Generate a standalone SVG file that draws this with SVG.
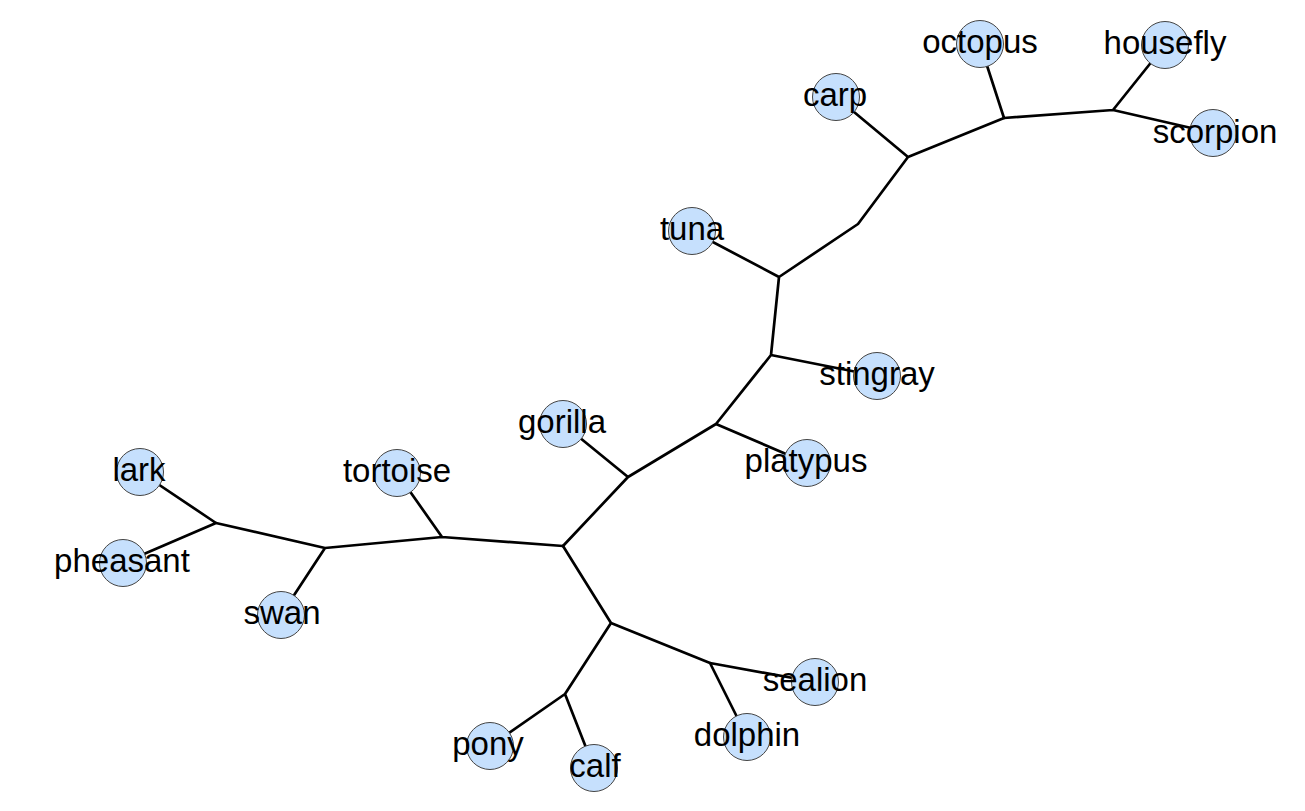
<svg xmlns="http://www.w3.org/2000/svg" width="1305" height="811" viewBox="0 0 1305 811">
<style>
.e{stroke:#000;stroke-width:2.7;fill:none;stroke-linecap:round;stroke-linejoin:round}
.n circle{fill:#c6e0fd;stroke:#444;stroke-width:1}
.n text{font-family:"Liberation Sans",Arial,sans-serif;font-size:33px;fill:#000;text-anchor:middle}
</style>
<rect width="1305" height="811" fill="#fff"/>
<g id="connectors">
<path class="e" d="M980,44 L1004,118 L1113,110 L1165,45 M1113,110 L1213,133"/>
<path class="e" d="M1004,118 L908,157 L836,97 M908,157 L858,224 L779,277 L692,231 M779,277 L771,355 L877,376 M771,355 L716,424 L807,463 M716,424 L628,477 L563,424 M628,477 L563,546"/>
<path class="e" d="M563,546 L442,537 L397,473 M442,537 L325,548 L281,615 M325,548 L216,523 L140,472 M216,523 L123,563"/>
<path class="e" d="M563,546 L611,623 L565,694 L490,746 M565,694 L594,768 M611,623 L710,663 L815,682 M710,663 L747,737"/>
</g>
<g id="octopus" class="n"><circle cx="980" cy="44" r="23.5"/><text x="980" y="53">octopus</text></g>
<g id="housefly" class="n"><circle cx="1165" cy="45" r="23.5"/><text x="1165" y="54">housefly</text></g>
<g id="scorpion" class="n"><circle cx="1213" cy="133" r="23.5"/><text x="1215" y="142.5">scorpion</text></g>
<g id="carp" class="n"><circle cx="836" cy="97" r="23.5"/><text x="835" y="106">carp</text></g>
<g id="tuna" class="n"><circle cx="692" cy="231" r="23.5"/><text x="692" y="240">tuna</text></g>
<g id="stingray" class="n"><circle cx="877" cy="376" r="23.5"/><text x="877" y="385">stingray</text></g>
<g id="platypus" class="n"><circle cx="807" cy="463" r="23.5"/><text x="806" y="472">platypus</text></g>
<g id="gorilla" class="n"><circle cx="563" cy="424" r="23.5"/><text x="562" y="433">gorilla</text></g>
<g id="tortoise" class="n"><circle cx="397" cy="473" r="23.5"/><text x="397" y="482">tortoise</text></g>
<g id="lark" class="n"><circle cx="140" cy="472" r="23.5"/><text x="139" y="481">lark</text></g>
<g id="pheasant" class="n"><circle cx="123" cy="563" r="23.5"/><text x="122" y="572">pheasant</text></g>
<g id="swan" class="n"><circle cx="281" cy="615" r="23.5"/><text x="282" y="624">swan</text></g>
<g id="pony" class="n"><circle cx="490" cy="746" r="23.5"/><text x="488" y="755">pony</text></g>
<g id="calf" class="n"><circle cx="594" cy="768" r="23.5"/><text x="595" y="777">calf</text></g>
<g id="dolphin" class="n"><circle cx="747" cy="737" r="23.5"/><text x="747" y="746">dolphin</text></g>
<g id="sealion" class="n"><circle cx="815" cy="682" r="23.5"/><text x="815" y="691">sealion</text></g>
</svg>
